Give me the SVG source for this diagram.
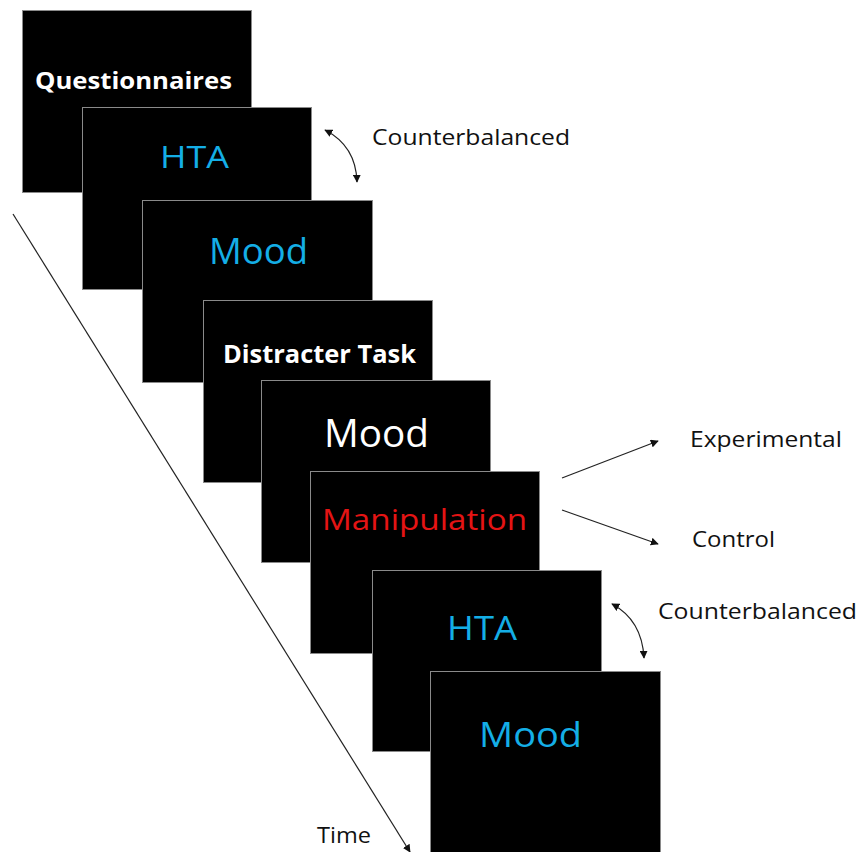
<svg xmlns="http://www.w3.org/2000/svg" width="862" height="852" viewBox="0 0 862 852">
<style>
.box{fill:#000;stroke:#8a8a8a;stroke-width:1}
.t{font-family:"Open Sans","Noto Sans","DejaVu Sans",sans-serif}
.bold{font-weight:bold;fill:#fff}
.blue{fill:#14aee6}
.white{fill:#fff}
.red{fill:#e41414}
.lbl{fill:#111;font-size:21px}
.ln{stroke:#222;stroke-width:1.2;fill:none}
</style>
<defs>
<marker id="ah" viewBox="0 0 10 10" refX="9" refY="5" markerWidth="8" markerHeight="8" markerUnits="userSpaceOnUse" orient="auto-start-reverse">
<path d="M0,0 L10,5 L0,10 z" fill="#111"/>
</marker>
</defs>
<rect width="862" height="852" fill="#fff"/>
<g id="connectors">
<path class="ln" d="M13,214 L410,852" marker-end="url(#ah)"/>
<path class="ln" d="M325,130 Q356,146 357,182" marker-start="url(#ah)" marker-end="url(#ah)"/>
<path class="ln" d="M612,604 Q642,620 644,658" marker-start="url(#ah)" marker-end="url(#ah)"/>
<path class="ln" d="M562,478 L658,441" marker-end="url(#ah)"/>
<path class="ln" d="M562,510 L658,544" marker-end="url(#ah)"/>
</g>
<g id="n1"><rect class="box" x="22.5" y="10.5" width="229" height="182"/><text class="t bold" x="35" y="89" font-size="24" textLength="197" lengthAdjust="spacingAndGlyphs">Questionnaires</text></g>
<g id="n2"><rect class="box" x="82.5" y="107.5" width="229" height="182"/><text class="t blue" x="160" y="168" font-size="31" textLength="69" lengthAdjust="spacingAndGlyphs">HTA</text></g>
<g id="n3"><rect class="box" x="142.5" y="200.5" width="230" height="182"/><text class="t blue" x="209" y="264" font-size="36" textLength="99" lengthAdjust="spacingAndGlyphs">Mood</text></g>
<g id="n4"><rect class="box" x="203.5" y="300.5" width="229" height="182"/><text class="t bold" x="223" y="363" font-size="25" textLength="193" lengthAdjust="spacingAndGlyphs">Distracter Task</text></g>
<g id="n5"><rect class="box" x="261.5" y="380.5" width="229" height="182"/><text class="t white" x="324" y="447" font-size="38" textLength="105" lengthAdjust="spacingAndGlyphs">Mood</text></g>
<g id="n6"><rect class="box" x="310.5" y="471.5" width="229" height="182"/><text class="t red" x="322" y="530" font-size="30" textLength="205" lengthAdjust="spacingAndGlyphs">Manipulation</text></g>
<g id="n7"><rect class="box" x="372.5" y="570.5" width="229" height="181"/><text class="t blue" x="447" y="640" font-size="32" textLength="70" lengthAdjust="spacingAndGlyphs">HTA</text></g>
<g id="n8"><rect class="box" x="430.5" y="671.5" width="230" height="185"/><text class="t blue" x="479" y="747" font-size="34" textLength="103" lengthAdjust="spacingAndGlyphs">Mood</text></g>
<g id="labels">
<text class="t lbl" x="372" y="145" textLength="198" lengthAdjust="spacingAndGlyphs">Counterbalanced</text>
<text class="t lbl" x="658" y="619" textLength="199" lengthAdjust="spacingAndGlyphs">Counterbalanced</text>
<text class="t lbl" x="690" y="447" textLength="152" lengthAdjust="spacingAndGlyphs">Experimental</text>
<text class="t lbl" x="692" y="547" textLength="83" lengthAdjust="spacingAndGlyphs">Control</text>
<text class="t lbl" x="317" y="843" textLength="54" lengthAdjust="spacingAndGlyphs">Time</text>
</g>
</svg>
